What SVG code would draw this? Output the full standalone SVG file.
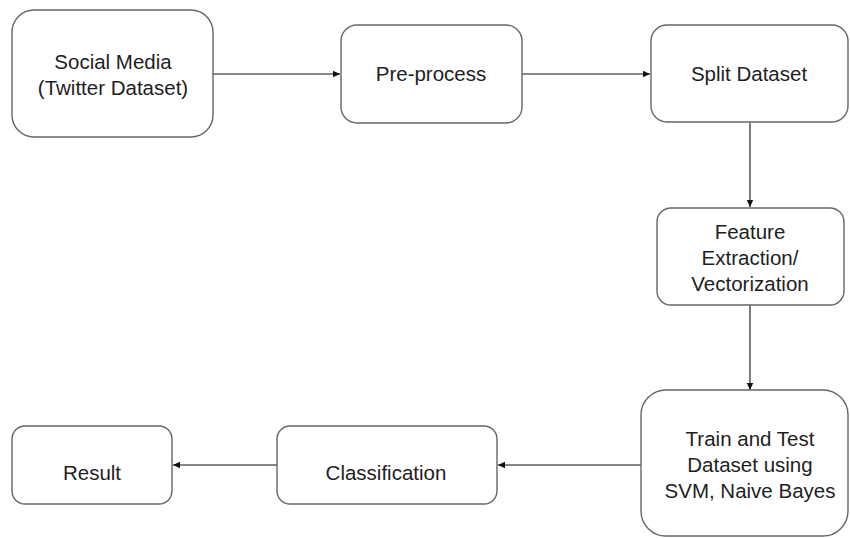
<svg xmlns="http://www.w3.org/2000/svg" width="850" height="538" viewBox="0 0 850 538">
<style>
.box{fill:#fff;stroke:#666;stroke-width:1.4}
.lbl{font-family:"Liberation Sans",Arial,sans-serif;font-size:20.5px;fill:#1e1e1e;text-anchor:middle}
.con{stroke:#111;stroke-width:1.1;fill:none}
</style>
<defs>
<marker id="ah" markerWidth="8" markerHeight="8" refX="7" refY="4" orient="auto" markerUnits="userSpaceOnUse">
<path d="M0,0.8 L7,4 L0,7.2 Z" fill="#111"/>
</marker>
</defs>
<rect width="850" height="538" fill="#fff"/>
<g id="connectors">
<line class="con" x1="213" y1="74" x2="340" y2="74" marker-end="url(#ah)"/>
<line class="con" x1="522" y1="74" x2="650" y2="74" marker-end="url(#ah)"/>
<line class="con" x1="750" y1="123" x2="750" y2="207" marker-end="url(#ah)"/>
<line class="con" x1="750" y1="305" x2="750" y2="390" marker-end="url(#ah)"/>
<line class="con" x1="641" y1="465" x2="498" y2="465" marker-end="url(#ah)"/>
<line class="con" x1="277" y1="465" x2="173" y2="465" marker-end="url(#ah)"/>
</g>
<g id="social-media">
<rect class="box" x="12" y="10" width="201" height="127" rx="22"/>
<text class="lbl" x="113" y="69">Social Media</text>
<text class="lbl" x="113" y="95">(Twitter Dataset)</text>
</g>
<g id="pre-process">
<rect class="box" x="341" y="25" width="181" height="98" rx="16"/>
<text class="lbl" x="431" y="81">Pre-process</text>
</g>
<g id="split-dataset">
<rect class="box" x="651" y="25" width="197" height="97" rx="16"/>
<text class="lbl" x="749" y="81">Split Dataset</text>
</g>
<g id="feature-extraction">
<rect class="box" x="657" y="208" width="187" height="97" rx="14"/>
<text class="lbl" x="750" y="239">Feature</text>
<text class="lbl" x="750" y="265">Extraction/</text>
<text class="lbl" x="750" y="291">Vectorization</text>
</g>
<g id="train-test">
<rect class="box" x="641" y="390" width="207" height="146" rx="25"/>
<text class="lbl" x="750" y="446">Train and Test</text>
<text class="lbl" x="750" y="472">Dataset using</text>
<text class="lbl" x="750" y="498">SVM, Naive Bayes</text>
</g>
<g id="classification">
<rect class="box" x="277" y="426" width="220" height="78" rx="13"/>
<text class="lbl" x="386" y="480">Classification</text>
</g>
<g id="result">
<rect class="box" x="12" y="426" width="160" height="78" rx="13"/>
<text class="lbl" x="92" y="480">Result</text>
</g>
</svg>
